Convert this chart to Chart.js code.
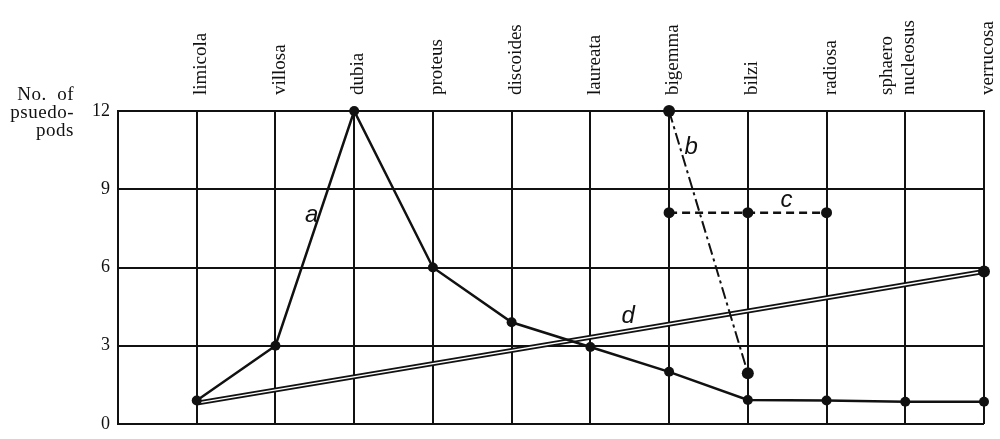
<!DOCTYPE html>
<html>
<head>
<meta charset="utf-8">
<script src="https://cdn.jsdelivr.net/npm/chart.js@4.4.1/dist/chart.umd.min.js"></script>
<style>
  html, body { margin: 0; padding: 0; background: #fff; }
  #wrap { width: 1000px; height: 439px; }
</style>
</head>
<body>
<div id="wrap"><canvas id="chart"></canvas></div>
<script>
const categories = ['limicola', 'villosa', 'dubia', 'proteus', 'discoides', 'laureata',
  'bigemma', 'bilzi', 'radiosa', ['sphaero', 'nucleosus'], 'verrucosa'];
const yTicks = [0, 3, 6, 9, 12];

// a: solid line through every species
const seriesA = [0.9, 3, 12, 6, 3.9, 2.95, 2.0, 0.92, 0.9, 0.85, 0.85];
// b: dash-dot, bigemma -> bilzi
const seriesB = [null, null, null, null, null, null, 12, 1.95, null, null, null];
// c: dashed, bigemma -> radiosa
const seriesC = [null, null, null, null, null, null, 8.1, 8.1, 8.1, null, null];
// d: double line, limicola -> verrucosa
const seriesD = [0.8, null, null, null, null, null, null, null, null, null, 5.85];

// letters written next to each curve (x in category units, y in pseudopods)
const tagNames = ['a', 'b', 'c', 'd'];
const tagX = [2.46, 7.28, 8.49, 6.48];
const tagY = [8.0, 10.6, 8.58, 4.14];

const toPoints = arr => arr
  .map((v, i) => (v === null ? null : { x: i + 1, y: v }))
  .filter(p => p !== null);

const serif = 'Liberation Serif';

const textPlugin = {
  id: 'extraText',
  afterDraw(chart) {
    const ctx = chart.ctx;
    const xs = chart.scales.x, ys = chart.scales.y;
    ctx.save();
    ctx.fillStyle = '#111';
    ctx.font = '19px "' + serif + '"';
    ctx.letterSpacing = '0.5px';
    ctx.textAlign = 'right';
    ctx.fillText('No.  of', 74, 100);
    ctx.fillText('psuedo-', 74, 118);
    ctx.fillText('pods', 74, 136);

    ctx.letterSpacing = '0px';
    ctx.font = 'italic 24px "Liberation Sans"';
    ctx.textAlign = 'center';
    ctx.textBaseline = 'middle';
    tagNames.forEach((t, i) => {
      ctx.fillText(t, xs.getPixelForValue(tagX[i]), ys.getPixelForValue(tagY[i]));
    });
    ctx.restore();
  }
};

new Chart(document.getElementById('chart'), {
  type: 'line',
  data: {
    datasets: [
      {
        data: toPoints(seriesA),
        borderColor: '#111',
        borderWidth: 2.5,
        pointRadius: 5,
        pointBackgroundColor: '#111',
        pointBorderWidth: 0,
        order: 1,
        clip: false
      },
      {
        data: toPoints(seriesB),
        borderColor: '#111',
        borderWidth: 2,
        borderDash: [12, 4, 3, 4],
        pointRadius: 6,
        pointBackgroundColor: '#111',
        pointBorderWidth: 0,
        order: 2,
        clip: false
      },
      {
        data: toPoints(seriesC),
        borderColor: '#111',
        borderWidth: 2.5,
        borderDash: [8, 5],
        pointRadius: 5.5,
        pointBackgroundColor: '#111',
        pointBorderWidth: 0,
        order: 3,
        clip: false
      },
      {
        // end dot of d
        data: toPoints(seriesD).slice(-1),
        showLine: false,
        pointRadius: 6,
        pointBackgroundColor: '#111',
        pointBorderWidth: 0,
        order: 4,
        clip: false
      },
      {
        data: toPoints(seriesD),
        borderColor: '#fff',
        borderWidth: 1.5,
        pointRadius: 0,
        order: 5,
        clip: false
      },
      {
        data: toPoints(seriesD),
        borderColor: '#111',
        borderWidth: 5,
        pointRadius: 0,
        order: 6,
        clip: false
      }
    ]
  },
  options: {
    responsive: true,
    maintainAspectRatio: false,
    animation: false,
    layout: { padding: { left: 0, top: 0, right: 16, bottom: 15 } },
    plugins: {
      legend: { display: false },
      tooltip: { enabled: false }
    },
    scales: {
      x: {
        type: 'linear',
        position: 'top',
        min: 0,
        max: 11,
        afterBuildTicks: scale => {
          scale.ticks = categories.map((c, i) => ({ value: i + 1 }));
          scale.ticks.unshift({ value: 0 });
        },
        afterFit: scale => { scale.height = 111; },
        ticks: {
          autoSkip: false,
          minRotation: 90,
          maxRotation: 90,
          padding: 16,
          labelOffset: 27,
          color: '#111',
          font: { family: serif, size: 19 },
          callback: v => (v === 0 ? '' : categories[v - 1])
        },
        grid: { color: '#111', lineWidth: 2, drawTicks: false },
        border: { color: '#111', width: 2 }
      },
      y: {
        position: 'left',
        min: 0,
        max: 12,
        afterBuildTicks: scale => {
          scale.ticks = yTicks.map(v => ({ value: v }));
        },
        afterFit: scale => {
          scale.width = 118;
          scale.paddingTop = 0;
          scale.paddingBottom = 0;
        },
        ticks: {
          padding: 8,
          color: '#111',
          font: { family: serif, size: 18 }
        },
        grid: { color: '#111', lineWidth: 2, drawTicks: false },
        border: { color: '#111', width: 2 }
      }
    }
  },
  plugins: [textPlugin]
});
</script>
</body>
</html>
